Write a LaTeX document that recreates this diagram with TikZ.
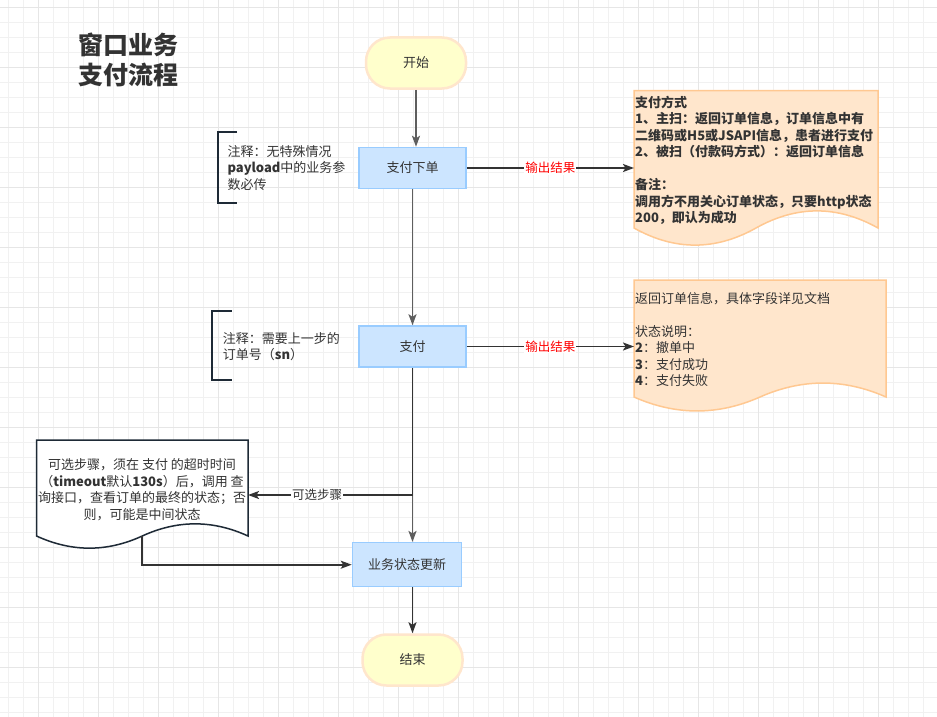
\documentclass[tikz,border=0pt]{standalone}
\usepackage{fontspec}
\setmainfont{Noto Sans CJK SC}
\usetikzlibrary{arrows.meta,calc}
\definecolor{gridminor}{HTML}{F1F1F1}
\definecolor{gridmajor}{HTML}{E6E6E6}
\definecolor{blueF}{HTML}{CCE5FF}
\definecolor{blueD}{HTML}{99CCFF}
\definecolor{yelF}{HTML}{FFFFCC}
\definecolor{yelD}{HTML}{FFE6CC}
\definecolor{orF}{HTML}{FFE6CC}
\definecolor{orD}{HTML}{FFC891}
\definecolor{navy}{HTML}{1E2A36}
\definecolor{txt}{HTML}{333333}
\definecolor{garr}{HTML}{5E5E5E}
\definecolor{darr}{HTML}{333333}
\newcommand\fsN{\fontsize{13pt}{16.5pt}\selectfont}
\newcommand\docpath[6]{%
  \pgfmathsetmacro\dA{#5-0.5*#6}%
  \pgfmathsetmacro\dU{\dA-0.6*#6}%
  \pgfmathsetmacro\dD{\dA+0.6*#6}%
  \pgfmathsetmacro\wA{#4-(#4-#2)/6}%
  \pgfmathsetmacro\wB{#4-(#4-#2)/3}%
  \pgfmathsetmacro\wM{(#2+#4)/2}%
  \pgfmathsetmacro\wC{#2+(#4-#2)/3}%
  \pgfmathsetmacro\wD{#2+(#4-#2)/6}%
  \draw[#1] (#2,#3) -- (#4,#3) -- (#4,\dA) .. controls (\wA,\dU) and (\wB,\dU) .. (\wM,\dA) .. controls (\wC,\dD) and (\wD,\dD) .. (#2,\dA) -- cycle;}
\begin{document}
\begin{tikzpicture}[x=1pt,y=-1pt,
  proc/.style={draw=blueD, fill=blueF, line width=1.5pt, minimum width=107pt, minimum height=41pt, font=\fsN, text=txt, inner sep=0pt},
  term/.style={draw=yelD, fill=yelF, line width=2.5pt, rounded corners=24pt, minimum width=100pt, minimum height=51pt, font=\fsN, text=txt, inner sep=0pt},
  holder/.style={inner sep=0pt, outer sep=0pt},
  garrow/.style={draw=garr, line width=1.8pt, -{Stealth[length=11pt,width=8pt,inset=2.5pt]}},
  darrow/.style={draw=darr, line width=1.6pt, -{Stealth[length=11pt,width=8pt,inset=2.5pt]}},
  lbl/.style={fill=white, inner sep=1pt, font=\fontsize{12.5pt}{14pt}\selectfont},
  doctext/.style={inner sep=0pt, align=left, font=\fsN, text=txt},
  bracket/.style={draw=navy, line width=2.2pt},
]
\useasboundingbox (0,0) rectangle (937,717);
\fill[white] (0,0) rectangle (937,717);
% grid
\foreach \x in {8,23,...,937} \draw[gridminor, line width=0.9pt] (\x,0) -- (\x,717);
\foreach \y in {7,22,...,717} \draw[gridminor, line width=0.9pt] (0,\y) -- (937,\y);
\foreach \x in {38,98,...,937} \draw[gridmajor, line width=0.9pt] (\x,0) -- (\x,717);
\foreach \y in {7,67,...,717} \draw[gridmajor, line width=0.9pt] (0,\y) -- (937,\y);

% title
\node[anchor=north west, inner sep=0pt, align=left, text=txt,
      font=\fontsize{25pt}{30pt}\selectfont\bfseries] (title) at (78,32.5) {窗口业务\\支付流程};

% main nodes
\node[term] (start) at (416,63) {开始};
\node[proc] (xd) at (412.5,168) {支付下单};
\node[proc] (pay) at (412.5,346.5) {支付};
\node[proc, minimum width=109pt, minimum height=44pt] (upd) at (407,564.7) {业务状态更新};
\node[term] (end) at (412.5,660) {结束};

% documents
\docpath{draw=orD, fill=orF, line width=1.5pt}{634}{90.5}{878}{247}{38}
\node[holder, minimum width=244pt, minimum height=156pt] (d1) at (756,169) {};
\node[doctext, anchor=north west, font=\fsN\bfseries] (t1) at (635,95.8) {支付方式\\1、主扫：返回订单信息，订单信息中有\\二维码或H5或JSAPI信息，患者进行支付\\2、被扫（付款码方式）：返回订单信息\\[16.5pt]备注：\\调用方不用关心订单状态，只要http状态\\200，即认为成功};

\docpath{draw=orD, fill=orF, line width=1.5pt}{634}{280}{886}{412.5}{31}
\node[holder, minimum width=252pt, minimum height=132pt] (d2) at (760,346) {};
\node[doctext, anchor=north west] (t2) at (635,291.8) {返回订单信息，具体字段详见文档\\[16.5pt]状态说明：\\\textbf{2}：撤单中\\\textbf{3}：支付成功\\\textbf{4}：支付失败};

\docpath{draw=navy, fill=white, line width=1.5pt}{36.5}{440}{248}{549.5}{27}
\node[holder, minimum width=212pt, minimum height=110pt] (d3) at (142,495) {};
\coordinate (d3b) at (142,536);
\node[doctext, align=center, anchor=north] (t3) at (142,458.5) {可选步骤，须在 支付 的超时时间\\（\textbf{timeout}默认\textbf{130s}）后，调用 查\\询接口，查看订单的最终的状态；否\\则，可能是中间状态};

% notes
\draw[bracket] (237,132.3) -- (218.3,132.3) -- (218.3,202.7) -- (237,202.7);
\node[doctext, anchor=north west] (n1) at (227.3,145.2) {注释：无特殊情况\\\textbf{payload}中的业务参\\数必传};
\draw[bracket] (231.7,310.7) -- (212.3,310.7) -- (212.3,380) -- (231.7,380);
\node[doctext, anchor=north west] (n2) at (222.7,332.2) {注释：需要上一步的\\订单号（\textbf{sn}）};

% connectors
\draw[garrow] (start.south) -- (start.south |- xd.north);
\draw[garrow] (xd.south) -- (pay.north);
\draw[garrow] (pay.south) -- (pay.south |- upd.north);
\draw[darrow] (pay.south) |- (d3.east) node[lbl, text=txt, pos=0.79] {可选步骤};
\draw[darrow] (xd.east) -- (xd.east -| d1.west) node[lbl, text=red, midway] {输出结果};
\draw[darrow] (pay.east) -- (pay.east -| d2.west) node[lbl, text=red, midway] {输出结果};
\draw[darrow] (d3b) |- (upd.west);
\draw[darrow] (upd.south -| end.north) -- (end.north);
\end{tikzpicture}
\end{document}
